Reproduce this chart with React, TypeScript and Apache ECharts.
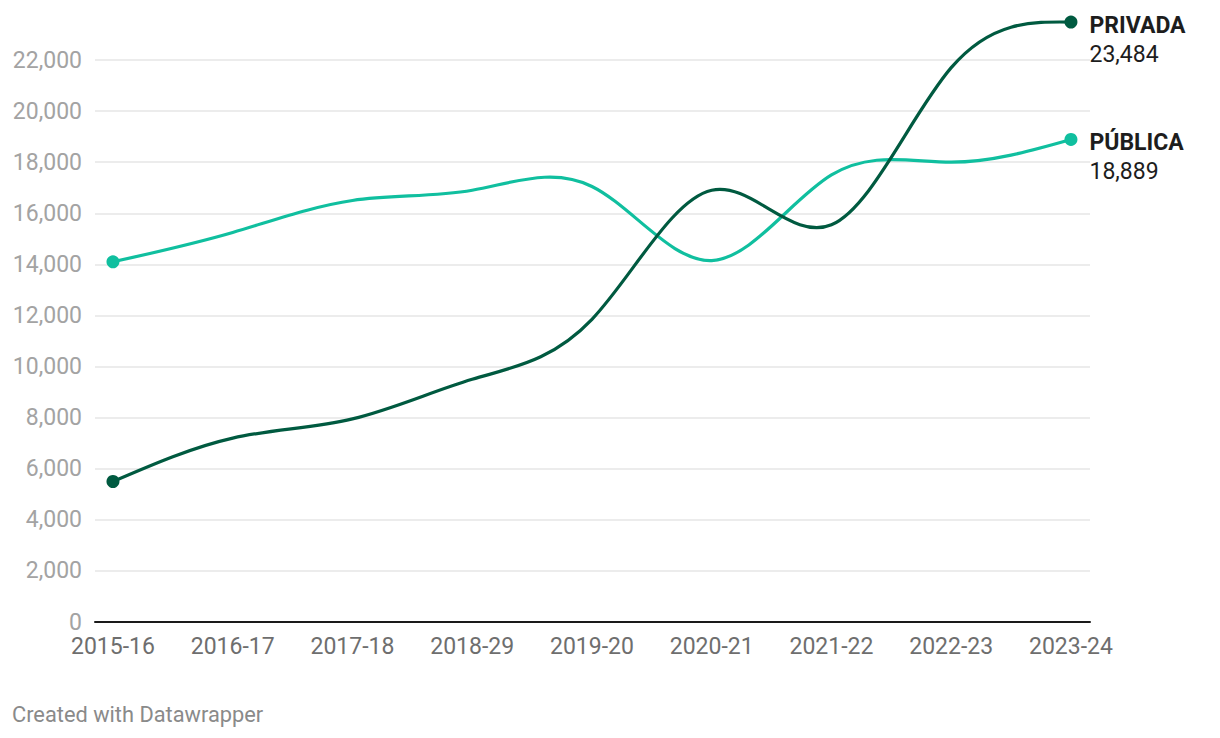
import React, { useEffect, useRef } from "react";
import * as echarts from "echarts";

const categories = ["2015-16", "2016-17", "2017-18", "2018-29", "2019-20", "2020-21", "2021-22", "2022-23", "2023-24"];
const publica = [14100, 15250, 16500, 16900, 17050, 14150, 17500, 18000, 18889];
const privada = [5500, 7200, 7950, 9500, 11850, 16900, 15550, 21700, 23484];
const yTicks = [0, 2000, 4000, 6000, 8000, 10000, 12000, 14000, 16000, 18000, 20000, 22000];

const FONT = "Roboto, 'Noto Sans', sans-serif";
const FS = 23;

// d3.curveNatural control points
function controlPoints(x: number[]) {
  const n = x.length - 1;
  const a = new Array(n), b = new Array(n), r = new Array(n);
  a[0] = 0; b[0] = 2; r[0] = x[0] + 2 * x[1];
  for (let i = 1; i < n - 1; ++i) { a[i] = 1; b[i] = 4; r[i] = 4 * x[i] + 2 * x[i + 1]; }
  a[n - 1] = 2; b[n - 1] = 7; r[n - 1] = 8 * x[n - 1] + x[n];
  for (let i = 1; i < n; ++i) { const m = a[i] / b[i - 1]; b[i] -= m; r[i] -= m * r[i - 1]; }
  a[n - 1] = r[n - 1] / b[n - 1];
  for (let i = n - 2; i >= 0; --i) a[i] = (r[i] - a[i + 1]) / b[i];
  b[n - 1] = (x[n] + a[n - 1]) / 2;
  for (let i = 0; i < n - 1; ++i) b[i] = 2 * x[i + 1] - a[i + 1];
  return [a, b];
}

function curveSeries(name: string, values: number[], color: string) {
  return {
    name,
    type: "custom",
    coordinateSystem: "cartesian2d",
    clip: false,
    silent: true,
    data: values.map((v, i) => [i, v]),
    encode: { x: 0, y: 1 },
    renderItem: (params: any, api: any) => {
      if (params.dataIndex !== 0) return null;
      const n = params.dataInsideLength ?? values.length;
      const xs: number[] = [], ys: number[] = [];
      for (let k = 0; k < n; k++) {
        const p = api.coord([api.value(0, k), api.value(1, k)]);
        xs.push(p[0]); ys.push(p[1]);
      }
      const [ax, bx] = controlPoints(xs);
      const [ay, by] = controlPoints(ys);
      let d = `M${xs[0]},${ys[0]}`;
      for (let i = 0; i < n - 1; i++) {
        d += `C${ax[i]},${ay[i]},${bx[i]},${by[i]},${xs[i + 1]},${ys[i + 1]}`;
      }
      return {
        type: "path",
        shape: { pathData: d },
        style: { stroke: color, lineWidth: 3.2, fill: "none", lineCap: "round", lineJoin: "round" },
      };
    },
  };
}

function dotSeries(name: string, label: string, values: number[], color: string) {
  const last = values.length - 1;
  return {
    name: name + "-dots",
    type: "scatter",
    silent: true,
    clip: false,
    symbol: "circle",
    symbolSize: 13,
    itemStyle: { color, opacity: 1 },
    emphasis: { disabled: true },
    data: [
      { value: [0, values[0]] },
      {
        value: [last, values[last]],
        label: {
          show: true,
          position: "right",
          distance: 12,
          offset: [0, 18],
          formatter: (p: any) => `{a|${label}}\n{b|${Number(p.value[1]).toLocaleString("en-US")}}`,
          rich: {
            a: { fontFamily: FONT, fontSize: FS, fontWeight: "bold", color: "#1d1d1d", lineHeight: 29 },
            b: { fontFamily: FONT, fontSize: FS, color: "#1d1d1d", lineHeight: 29 },
          },
        },
      },
    ],
  };
}

export default function App() {
  const ref = useRef<HTMLDivElement>(null);
  useEffect(() => {
    if (!ref.current) return;
    const chart = echarts.init(ref.current, undefined, { renderer: "svg" });
    chart.setOption({
      animation: false,
      backgroundColor: "#ffffff",
      grid: { left: 95, right: 130, top: 60, bottom: 116, containLabel: false },
      xAxis: {
        type: "value",
        min: -0.15,
        max: 8.159,
        axisLine: { show: true, lineStyle: { color: "#1a1a1a", width: 2 } },
        axisTick: { show: false },
        splitLine: { show: false },
        axisLabel: {
          customValues: categories.map((_, i) => i),
          formatter: (v: number) => categories[Math.round(v)] ?? "",
          fontFamily: FONT,
          fontSize: FS,
          color: "#6e6e6e",
          margin: 13,
        },
      },
      yAxis: {
        type: "value",
        min: yTicks[0],
        max: yTicks[yTicks.length - 1],
        interval: 2000,
        axisLine: { show: false },
        axisTick: { show: false },
        splitLine: { show: true, lineStyle: { color: "#e6e6e6", width: 1.5 } },
        axisLabel: {
          formatter: (v: number) => v.toLocaleString("en-US"),
          fontFamily: FONT,
          fontSize: FS,
          color: "#a3a3a3",
          margin: 13,
        },
      },
      graphic: [
        {
          type: "text",
          left: 12,
          top: 703,
          style: { text: "Created with Datawrapper", fontFamily: FONT, fontSize: 21.8, fill: "#8a8a8a" },
        },
      ],
      series: [
        curveSeries("Pública", publica, "#10bf9f"),
        curveSeries("Privada", privada, "#005a40"),
        dotSeries("Pública", "PÚBLICA", publica, "#10bf9f"),
        dotSeries("Privada", "PRIVADA", privada, "#005a40"),
      ],
    });
    return () => chart.dispose();
  }, []);
  return (
    <div
      ref={ref}
      style={{ position: "fixed", left: 0, top: 0, width: 1220, height: 738, background: "#fff" }}
    />
  );
}
